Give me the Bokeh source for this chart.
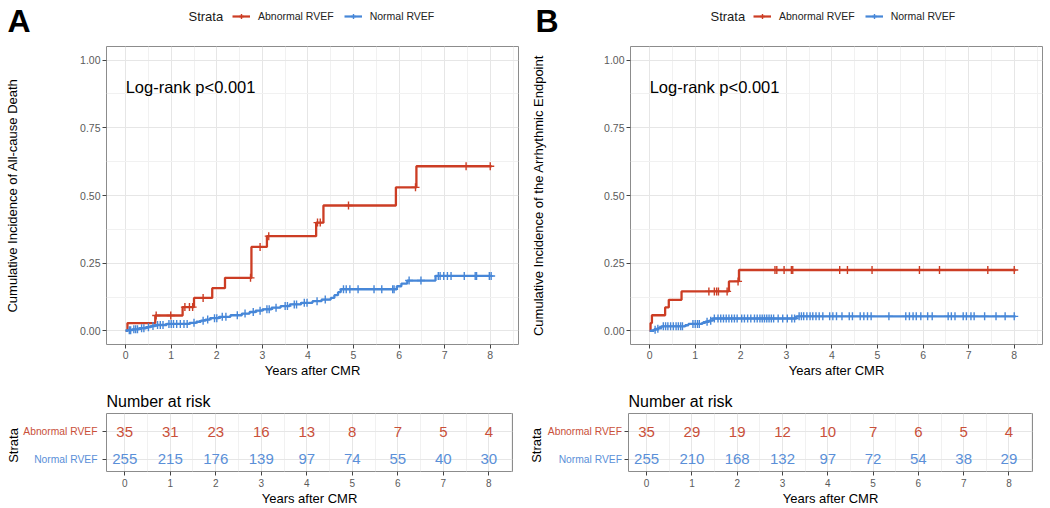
import numpy as np
from bokeh.plotting import figure
from bokeh.models import (ColumnDataSource, FixedTicker, Label, Legend, LegendItem, Range1d)
from bokeh.layouts import row, column
from bokeh.embed import file_html
from bokeh.resources import INLINE
from bokeh.core.properties import value

# ---------------- data ----------------
strata = ["Abnormal RVEF", "Normal RVEF"]
years = [0, 1, 2, 3, 4, 5, 6, 7, 8]
y_ticks = [0.0, 0.25, 0.5, 0.75, 1.0]
end_time = 8.03

# Panel A: all-cause death
A_ab_t = [0.00, 0.04, 0.65, 1.25, 1.50, 1.90, 2.18, 2.76, 3.10, 4.18, 4.34, 5.93, 6.38]
A_ab_y = [0.000, 0.029, 0.057, 0.088, 0.122, 0.158, 0.196, 0.310, 0.350, 0.400, 0.463, 0.530, 0.608]
A_ab_cens = [0.67, 0.99, 1.30, 1.40, 1.47, 1.70, 2.74, 2.95, 3.14, 4.21, 4.27, 4.89, 6.36, 7.47, 8.00]

A_no_t = [0.00, 0.05, 0.15, 0.30, 0.45, 0.55, 0.65, 0.90, 1.40, 1.55, 1.65, 1.75, 1.85, 2.05, 2.30,
          2.55, 2.72, 2.85, 3.00, 3.20, 3.40, 3.60, 3.85, 4.10, 4.30, 4.50, 4.58, 4.66, 4.72, 5.95,
          6.05, 6.18, 6.80]
A_no_y = [0.000, 0.003, 0.006, 0.010, 0.014, 0.018, 0.022, 0.026, 0.030, 0.034, 0.038, 0.042, 0.047,
          0.052, 0.058, 0.064, 0.070, 0.075, 0.080, 0.086, 0.092, 0.098, 0.104, 0.110, 0.116, 0.122,
          0.132, 0.143, 0.154, 0.165, 0.175, 0.186, 0.203]
A_no_cens = [0.08, 0.11, 0.18, 0.22, 0.26, 0.35, 0.40, 0.50, 0.60, 0.70, 0.76, 0.82, 0.95, 1.00, 1.05,
             1.12, 1.20, 1.28, 1.35, 1.50, 1.70, 1.80, 1.95, 2.00, 2.12, 2.20, 2.45, 2.62, 2.80, 2.95,
             3.10, 3.15, 3.30, 3.50, 3.55, 3.70, 3.75, 3.92, 3.98, 4.20, 4.38, 4.78, 4.84, 4.92, 5.10,
             5.45, 5.62, 5.86, 5.89, 6.22, 6.48, 6.86, 6.90, 6.98, 7.06, 7.14, 7.43, 7.67, 7.70, 7.98,
             8.02]
A_risk_ab = [35, 31, 23, 16, 13, 8, 7, 5, 4]
A_risk_no = [255, 215, 176, 139, 97, 74, 55, 40, 30]

# Panel B: arrhythmic endpoint
B_ab_t = [0.00, 0.02, 0.05, 0.34, 0.42, 0.70, 1.74, 1.96]
B_ab_y = [0.000, 0.029, 0.058, 0.087, 0.115, 0.146, 0.183, 0.225]
B_ab_cens = [1.30, 1.42, 1.47, 1.51, 1.70, 1.94, 2.75, 2.79, 2.95, 3.11, 3.14, 4.17, 4.34, 4.88,
             5.92, 6.36, 7.42, 8.00]

B_no_t = [0.00, 0.09, 0.14, 0.20, 0.26, 0.78, 0.85, 1.15, 1.22, 1.30, 1.38, 3.22]
B_no_y = [0.000, 0.004, 0.008, 0.012, 0.017, 0.021, 0.026, 0.030, 0.034, 0.038, 0.046, 0.054]
B_no_cens = [0.12, 0.18, 0.30, 0.35, 0.40, 0.46, 0.52, 0.58, 0.63, 0.68, 0.72, 0.95, 1.00, 1.05, 1.09,
             1.26, 1.34, 1.42, 1.50, 1.56, 1.62, 1.68, 1.74, 1.80, 1.86, 1.92, 2.02, 2.08, 2.15, 2.22,
             2.30, 2.36, 2.42, 2.47, 2.52, 2.57, 2.62, 2.67, 2.72, 2.82, 2.92, 3.02, 3.12, 3.18, 3.28,
             3.33, 3.38, 3.45, 3.52, 3.58, 3.65, 3.72, 3.80, 3.95, 4.02, 4.10, 4.22, 4.38, 4.45, 4.62,
             4.70, 4.78, 4.86, 5.25, 5.62, 5.70, 5.78, 5.85, 5.95, 6.10, 6.20, 6.55, 6.62, 6.70, 6.88,
             6.95, 7.05, 7.12, 7.35, 7.60, 7.80, 8.00]
B_risk_ab = [35, 29, 19, 12, 10, 7, 6, 5, 4]
B_risk_no = [255, 210, 168, 132, 97, 72, 54, 38, 29]

# ---------------- style ----------------
FONT = "Liberation Sans"
RED = "#CC3D24"
BLUE = "#4787D8"
RED_T = "#C9503A"
BLUE_T = "#5A8FD8"
GRID_MAJ = "#E6E6E6"
GRID_MIN = "#F1F1F1"
BORDER = "#8C8C8C"
TICKTXT = "#5A5A5A"

HEAD_H, KM_H, TAB_H = 44, 336, 128


def step_at(times, vals, t):
    idx = np.searchsorted(np.asarray(times), np.asarray(t), side="right") - 1
    return np.asarray(vals)[idx]


def style_axis(ax, label_size="10.5px"):
    ax.axis_line_color = None
    ax.major_tick_line_color = "#444444"
    ax.major_tick_out = 4
    ax.major_tick_in = 0
    ax.minor_tick_line_color = None
    ax.major_label_text_font = FONT
    ax.major_label_text_font_size = label_size
    ax.major_label_text_color = TICKTXT
    ax.axis_label_text_font = FONT
    ax.axis_label_text_font_size = "13px"
    ax.axis_label_text_font_style = "normal"
    ax.axis_label_text_color = "black"


def blank_fig(width, height, xr, yr, **borders):
    f = figure(width=width, height=height, x_range=xr, y_range=yr, x_axis_location=None,
               y_axis_location=None, output_backend="svg", toolbar_location=None, title=None,
               **borders)
    f.outline_line_color = None
    f.grid.visible = False
    return f


def header(width, letter, letter_x, strata_x, legend_x, ab_t, ab_y, no_t, no_y):
    h = blank_fig(width, HEAD_H, Range1d(0, width), Range1d(0, HEAD_H),
                  min_border_left=0, min_border_right=0, min_border_top=0, min_border_bottom=0)
    h.add_layout(Label(x=letter_x, y=HEAD_H - 20.5, text=letter, text_font=FONT, text_font_size="32px",
                       text_font_style="bold", text_baseline="middle", text_align="left",
                       text_color="black"))
    h.add_layout(Label(x=strata_x, y=HEAD_H - 15.5, text="Strata", text_font=FONT,
                       text_font_size="13px", text_baseline="middle", text_align="left",
                       text_color="#1A1A1A"))
    items = []
    for name, col, (tt, yy) in zip(strata, [RED, BLUE], [(ab_t, ab_y), (no_t, no_y)]):
        # hidden copies of the curves, used only as legend keys
        ln = h.step(x=tt, y=yy, mode="after", line_color=col, line_width=2.2, visible=False)
        mk = h.scatter(x=tt, y=yy, marker="cross", size=8, line_color=col, line_width=1.4,
                       visible=False)
        items.append(LegendItem(label=name, renderers=[ln, mk]))
    legend = Legend(items=items, orientation="horizontal", location=(legend_x, HEAD_H - 21.5),
                    label_text_font=FONT, label_text_font_size="10.5px", label_text_color="#222222",
                    glyph_width=18, glyph_height=12, label_height=12, label_standoff=8, spacing=10,
                    padding=0, margin=0, border_line_color=None, background_fill_alpha=0,
                    inactive_fill_alpha=0)
    h.add_layout(legend)
    return row(h)


def km_panel(width, bl, br, ylabel, ylab_standoff, ab_t, ab_y, ab_c, no_t, no_y, no_c):
    p = figure(width=width, height=KM_H, x_range=Range1d(-0.42, 8.62), y_range=Range1d(-0.05, 1.05),
               output_backend="svg", toolbar_location=None,
               min_border_left=bl, min_border_right=br, min_border_top=2, min_border_bottom=35)
    p.outline_line_color = BORDER
    p.outline_line_width = 1

    xt = FixedTicker(ticks=years, minor_ticks=[v + 0.5 for v in years])
    yt = FixedTicker(ticks=y_ticks, minor_ticks=[v + 0.125 for v in y_ticks[:-1]])
    p.xaxis.ticker = xt
    p.yaxis.ticker = yt
    p.xgrid.ticker = xt
    p.ygrid.ticker = yt
    for g in (p.xgrid[0], p.ygrid[0]):
        g.grid_line_color = GRID_MAJ
        g.grid_line_width = 1
        g.minor_grid_line_color = GRID_MIN
        g.minor_grid_line_width = 1
    p.yaxis.major_label_overrides = {v: f"{v:.2f}" for v in y_ticks}
    style_axis(p.xaxis[0])
    style_axis(p.yaxis[0])
    p.xaxis.axis_label = "Years after CMR"
    p.xaxis.major_label_standoff = 2
    p.xaxis.axis_label_standoff = 1
    p.yaxis.axis_label = ylabel
    p.yaxis.major_label_standoff = 2
    p.yaxis.axis_label_standoff = ylab_standoff

    p.step(x=ab_t + [end_time], y=ab_y + [ab_y[-1]], mode="after", line_color=RED, line_width=2.3)
    p.scatter(x=ab_c, y=step_at(ab_t, ab_y, ab_c), marker="cross", size=8, line_color=RED,
              line_width=1.4)
    p.step(x=no_t + [end_time], y=no_y + [no_y[-1]], mode="after", line_color=BLUE, line_width=2.3)
    p.scatter(x=no_c, y=step_at(no_t, no_y, no_c), marker="cross", size=8, line_color=BLUE,
              line_width=1.4)

    p.add_layout(Label(x=0, y=0.9, text="Log-rank p<0.001", text_font=FONT, text_font_size="16.5px",
                       text_baseline="middle", text_align="left", text_color="black"))
    return p


def risk_panels(label_w, width, br, ab_vals, no_vals, strata_x, label_right):
    yr = Range1d(0.54, 2.68)
    top, bottom = 33, 35
    # left strip holding the coloured strata names and the "Strata" title
    lab = blank_fig(label_w, TAB_H, Range1d(0, label_w), yr,
                    min_border_left=0, min_border_right=0, min_border_top=top, min_border_bottom=bottom)
    lab.text(x=[label_right, label_right], y=[2, 1], text=strata, text_color=[RED_T, BLUE_T],
             text_align="right", text_baseline="middle", text_font=value(FONT), text_font_size="10.3px")
    lab.text(x=[strata_x], y=[1.5], text=["Strata"], angle=np.pi / 2, text_align="center",
             text_baseline="middle", text_font=value(FONT), text_font_size="13px", text_color="black")

    t = figure(width=width, height=TAB_H, x_range=Range1d(-0.4, 8.52), y_range=yr,
               output_backend="svg", toolbar_location=None, title="Number at risk",
               min_border_left=6, min_border_right=br, min_border_top=top, min_border_bottom=bottom)
    t.title.text_font = FONT
    t.title.text_font_size = "16px"
    t.title.text_font_style = "normal"
    t.title.text_color = "black"
    t.title.align = "left"
    t.title.standoff = 8
    t.outline_line_color = BORDER
    t.outline_line_width = 1

    xt = FixedTicker(ticks=years, minor_ticks=[v + 0.5 for v in years])
    yt = FixedTicker(ticks=[1, 2])
    t.xaxis.ticker = xt
    t.yaxis.ticker = yt
    t.xgrid.ticker = xt
    t.ygrid.ticker = yt
    for g in (t.xgrid[0], t.ygrid[0]):
        g.grid_line_color = GRID_MAJ
        g.grid_line_width = 1
        g.minor_grid_line_color = GRID_MIN
    style_axis(t.xaxis[0], "10px")
    style_axis(t.yaxis[0])
    t.xaxis.axis_label = "Years after CMR"
    t.xaxis.major_label_standoff = 3
    t.xaxis.axis_label_standoff = 1
    t.yaxis.major_label_overrides = {1: "", 2: ""}
    t.yaxis.major_label_standoff = 0

    src = ColumnDataSource(dict(
        x=years + years,
        y=[2] * len(years) + [1] * len(years),
        txt=[str(v) for v in ab_vals] + [str(v) for v in no_vals],
        col=[RED_T] * len(years) + [BLUE_T] * len(years)))
    t.text(x="x", y="y", text="txt", text_color="col", source=src, text_align="center",
           text_baseline="middle", text_font=value(FONT), text_font_size="15px")
    return row(lab, t)


headA = header(528, "A", 7, 188, 232, A_ab_t, A_ab_y, A_no_t, A_no_y)
headB = header(522, "B", 7, 182, 225, B_ab_t, B_ab_y, B_no_t, B_no_y)
kmA = km_panel(528, 106, 10, "Cumulative Incidence of All-cause Death", 57,
               A_ab_t, A_ab_y, A_ab_cens, A_no_t, A_no_y, A_no_cens)
kmB = km_panel(522, 102, 8, "Cumulative Incidence of the Arrhythmic Endpoint", 55,
               B_ab_t, B_ab_y, B_ab_cens, B_no_t, B_no_y, B_no_cens)
tabA = risk_panels(100, 428, 16, A_risk_ab, A_risk_no, 12.5, 97)
tabB = risk_panels(94, 428, 18, B_risk_ab, B_risk_no, 8, 93.5)

layout = row(column(headA, kmA, tabA), column(headB, kmB, tabB))
open("out.html", "w").write(file_html(layout, INLINE))
